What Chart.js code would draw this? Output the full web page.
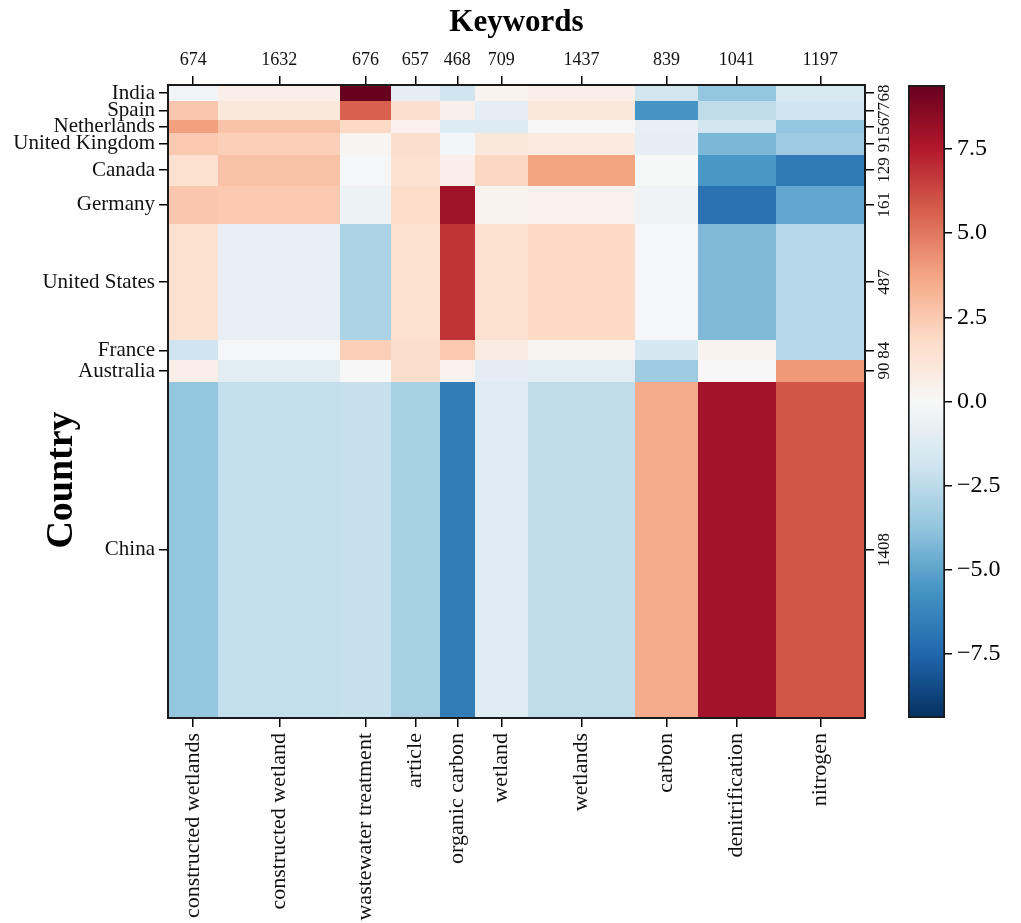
<!DOCTYPE html>
<html>
<head>
<meta charset="utf-8">
<title>Keywords by Country</title>
<script src="https://cdn.jsdelivr.net/npm/chart.js@4.4.1/dist/chart.umd.min.js"></script>
<style>
  html, body { margin: 0; padding: 0; background: #fff; }
  #wrap { position: relative; width: 1021px; height: 923px; }
  #mainBox { position: absolute; left: 0; top: 0; width: 1021px; height: 923px; }
  #barBox { position: absolute; left: 880px; top: 0; width: 141px; height: 923px; }
</style>
</head>
<body>
<div id="wrap">
  <div id="mainBox"><canvas id="mosaic"></canvas></div>
  <div id="barBox"><canvas id="colorbar"></canvas></div>
</div>
<script>
// ======================
// DATA
// ======================
const keywords = [
  'constructed wetlands', 'constructed wetland', 'wastewater treatment', 'article',
  'organic carbon', 'wetland', 'wetlands', 'carbon', 'denitrification', 'nitrogen'
];
const keywordCounts = [674, 1632, 676, 657, 468, 709, 1437, 839, 1041, 1197];

const countries = [
  'India', 'Spain', 'Netherlands', 'United Kingdom', 'Canada',
  'Germany', 'United States', 'France', 'Australia', 'China'
];
const countryCounts = [68, 77, 56, 91, 129, 161, 487, 84, 90, 1408];

// residuals, one row per country (same order as keywords)
const residuals = [
  [-0.3,  0.6,  9.4, -0.9, -1.9,  0.3,  0.6, -1.8, -3.7, -1.6],  // India
  [ 2.6,  1.0,  5.6,  1.6,  0.5, -0.9,  1.0, -5.6, -2.4, -1.9],  // Spain
  [ 3.9,  2.7,  1.9,  0.4, -1.3, -1.3,  0.05, -0.8, -1.8, -3.7], // Netherlands
  [ 2.5,  2.3,  0.2,  1.7, -0.2,  1.0,  0.9, -0.9, -4.3, -3.4],  // United Kingdom
  [ 1.5,  2.8, -0.1,  1.5,  0.6,  2.0,  3.8, -0.05, -5.5, -6.7], // Canada
  [ 2.6,  2.5, -0.5,  1.8,  8.0,  0.3,  0.4, -0.4, -7.0, -4.9],  // Germany
  [ 1.5, -0.8, -3.0,  1.5,  6.8,  1.5,  1.9, -0.1, -4.2, -2.7],  // United States
  [-1.9, -0.1,  2.3,  1.7,  2.5,  0.8,  0.15, -1.7, 0.3, -2.7],  // France
  [ 0.6, -1.1,  0.0,  1.7,  0.4, -1.0, -1.1, -3.4,  0.0,  4.1],  // Australia
  [-3.7, -2.3, -2.2, -3.1, -6.6, -1.2, -2.4,  3.5,  7.9,  5.9]   // China
];

const colorTicks = [-7.5, -5.0, -2.5, 0.0, 2.5, 5.0, 7.5];
const colorLimit = 9.4;

// RdBu_r
const rdbuStops = [
  '#053061', '#2166ac', '#4393c3', '#92c5de', '#d1e5f0', '#f7f7f7',
  '#fddbc7', '#f4a582', '#d6604d', '#b2182b', '#67001f'
];

const FONT = '"Liberation Serif", "DejaVu Serif", serif';
Chart.defaults.font.family = FONT;
Chart.defaults.color = '#111';

// ======================
// HELPERS
// ======================
function hexToRgb(h) {
  const n = parseInt(h.slice(1), 16);
  return [(n >> 16) & 255, (n >> 8) & 255, n & 255];
}

function rdbu(v) {
  let t = (v + colorLimit) / (2 * colorLimit);
  t = Math.max(0, Math.min(1, t));
  const pos = t * (rdbuStops.length - 1);
  const i = Math.min(Math.floor(pos), rdbuStops.length - 2);
  const f = pos - i;
  const a = hexToRgb(rdbuStops[i]);
  const b = hexToRgb(rdbuStops[i + 1]);
  const c = a.map((x, k) => Math.round(x + (b[k] - x) * f));
  return `rgb(${c[0]},${c[1]},${c[2]})`;
}

function edges(counts) {
  const out = [0];
  counts.forEach(c => out.push(out[out.length - 1] + c));
  return out;
}

const xEdges = edges(keywordCounts);
const yEdges = edges(countryCounts);
const xTotal = xEdges[xEdges.length - 1];
const yTotal = yEdges[yEdges.length - 1];
const xCenters = keywordCounts.map((c, i) => xEdges[i] + c / 2);
const yCenters = countryCounts.map((c, i) => yEdges[i] + c / 2);

const cells = [];
countries.forEach((country, r) => {
  keywords.forEach((kw, k) => {
    cells.push({
      x: xCenters[k], y: yCenters[r],
      x0: xEdges[k], x1: xEdges[k + 1],
      y0: yEdges[r], y1: yEdges[r + 1],
      v: residuals[r][k]
    });
  });
});

// ======================
// PLUGINS
// ======================
const mosaicPlugin = {
  id: 'mosaicCells',
  beforeDatasetsDraw(chart) {
    const { ctx, scales: { x, y } } = chart;
    ctx.save();
    chart.data.datasets[0].data.forEach(c => {
      const l = Math.round(x.getPixelForValue(c.x0));
      const r = Math.round(x.getPixelForValue(c.x1));
      const t = Math.round(y.getPixelForValue(c.y0));
      const b = Math.round(y.getPixelForValue(c.y1));
      ctx.fillStyle = rdbu(c.v);
      ctx.fillRect(l, t, r - l, b - t);
    });
    ctx.restore();
  }
};

// y title sits lower than the axis middle in the original
const countryTitle = {
  id: 'countryTitle',
  afterDraw(chart) {
    const { ctx } = chart;
    ctx.save();
    ctx.translate(62, 480);
    ctx.rotate(-Math.PI / 2);
    ctx.font = `bold 38px ${FONT}`;
    ctx.fillStyle = '#000';
    ctx.textAlign = 'center';
    ctx.textBaseline = 'middle';
    ctx.fillText('Country', 0, 0);
    ctx.restore();
  }
};

const gridOpts = {
  drawOnChartArea: false,
  drawTicks: true,
  tickLength: 9,
  color: '#000',
  lineWidth: 1.5
};
const borderOpts = { display: true, color: '#1a1a1a', width: 2, z: 1 };

// ======================
// MOSAIC CHART
// ======================
new Chart(document.getElementById('mosaic'), {
  type: 'scatter',
  data: {
    datasets: [{
      data: cells,
      pointRadius: 0,
      pointHoverRadius: 0
    }]
  },
  options: {
    responsive: true,
    maintainAspectRatio: false,
    animation: false,
    events: [],
    layout: { padding: { left: 0, top: 0, right: 121, bottom: 0 } },
    plugins: {
      legend: { display: false },
      tooltip: { enabled: false }
    },
    scales: {
      x: {
        type: 'linear', position: 'bottom', min: 0, max: xTotal,
        afterBuildTicks: s => { s.ticks = xCenters.map(v => ({ value: v })); },
        afterFit: s => { s.height = 205; },
        ticks: {
          autoSkip: false, minRotation: 90, maxRotation: 90, padding: 6,
          font: { size: 22 },
          callback: (v, i) => keywords[i]
        },
        grid: gridOpts,
        border: borderOpts
      },
      x2: {
        type: 'linear', position: 'top', min: 0, max: xTotal,
        afterBuildTicks: s => { s.ticks = xCenters.map(v => ({ value: v })); },
        afterFit: s => { s.height = 85; },
        ticks: {
          autoSkip: false, maxRotation: 0, padding: 5,
          font: { size: 18 },
          callback: (v, i) => String(keywordCounts[i])
        },
        title: {
          display: true, text: 'Keywords', color: '#000',
          font: { size: 31, weight: 'bold' },
          padding: { top: 4, bottom: 0 }
        },
        grid: gridOpts,
        border: borderOpts
      },
      y: {
        type: 'linear', position: 'left', min: 0, max: yTotal, reverse: true,
        afterBuildTicks: s => { s.ticks = yCenters.map(v => ({ value: v })); },
        afterFit: s => { s.width = 168; },
        ticks: {
          autoSkip: false, padding: 4,
          font: { size: 21 },
          callback: (v, i) => countries[i]
        },
        grid: gridOpts,
        border: borderOpts
      },
      y2: {
        type: 'linear', position: 'right', min: 0, max: yTotal, reverse: true,
        afterBuildTicks: s => { s.ticks = yCenters.map(v => ({ value: v })); },
        afterFit: s => { s.width = 35; },
        ticks: {
          autoSkip: false, minRotation: 90, maxRotation: 90,
          crossAlign: 'center', padding: -6,
          font: { size: 17 },
          callback: (v, i) => String(countryCounts[i])
        },
        grid: gridOpts,
        border: borderOpts
      }
    }
  },
  plugins: [mosaicPlugin, countryTitle]
});

// ======================
// COLORBAR
// ======================
new Chart(document.getElementById('colorbar'), {
  type: 'bar',
  data: {
    labels: [''],
    datasets: [{
      data: [[-colorLimit, colorLimit]],
      backgroundColor: ctx => {
        const area = ctx.chart.chartArea;
        if (!area) return '#f7f7f7';
        const g = ctx.chart.ctx.createLinearGradient(0, area.bottom, 0, area.top);
        rdbuStops.forEach((c, i) => g.addColorStop(i / (rdbuStops.length - 1), c));
        return g;
      },
      borderColor: '#1a1a1a',
      borderWidth: 2,
      borderSkipped: false,
      barPercentage: 1,
      categoryPercentage: 1
    }]
  },
  options: {
    responsive: true,
    maintainAspectRatio: false,
    animation: false,
    events: [],
    layout: { padding: { left: 28, top: 85, right: 0, bottom: 205 } },
    plugins: {
      legend: { display: false },
      tooltip: { enabled: false }
    },
    scales: {
      x: { display: false },
      y: {
        position: 'right', min: -colorLimit, max: colorLimit,
        afterBuildTicks: s => { s.ticks = colorTicks.map(v => ({ value: v })); },
        afterFit: s => { s.width = 76; },
        ticks: {
          autoSkip: false, padding: 5, color: '#000',
          font: { size: 24 },
          callback: v => (v < 0 ? '\u2212' : '') + Math.abs(v).toFixed(1)
        },
        grid: { drawOnChartArea: false, tickLength: 7, color: '#000', lineWidth: 1.5 },
        border: { display: false }
      }
    }
  }
});
</script>
</body>
</html>
